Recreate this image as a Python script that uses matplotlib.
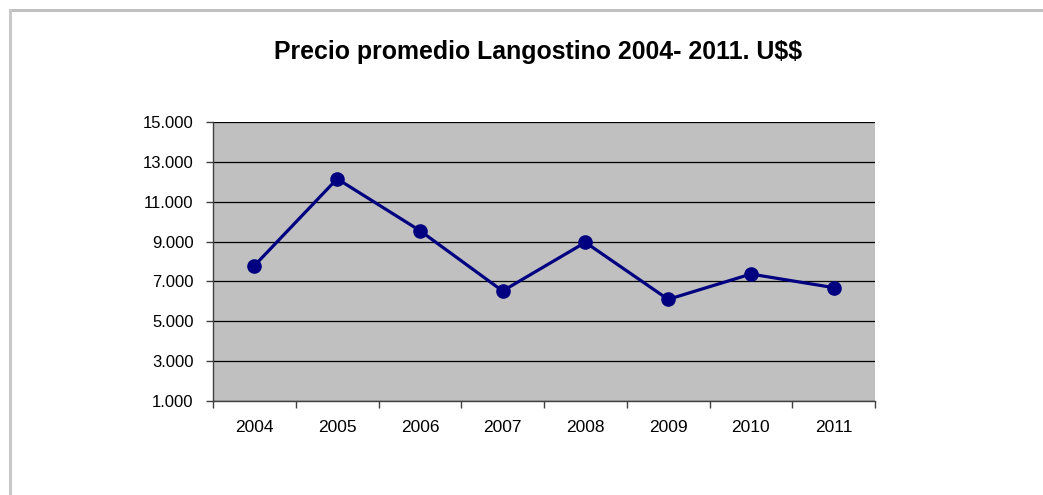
import matplotlib
matplotlib.use("Agg")
import matplotlib.pyplot as plt
from matplotlib.lines import Line2D
from matplotlib.ticker import FixedLocator, FuncFormatter

# datos
anios = ["2004", "2005", "2006", "2007", "2008", "2009", "2010", "2011"]
precios = [7790, 12150, 9550, 6520, 8960, 6100, 7370, 6690]
y_ticks = [1000, 3000, 5000, 7000, 9000, 11000, 13000, 15000]

TITULO = "Precio promedio Langostino 2004- 2011. U$$"
AZUL = "#000080"
GRIS = "#c0c0c0"

plt.rcParams["font.family"] = ["Liberation Sans", "DejaVu Sans"]

fig = plt.figure(figsize=(10.43, 4.95), dpi=100, facecolor="white")

# marco gris del grafico (solo arriba e izquierda visibles)
fig.add_artist(Line2D([9.5 / 1043, 1.0], [1 - 9.5 / 495, 1 - 9.5 / 495],
                      transform=fig.transFigure, color="#c0c0c0", lw=2.2))
fig.add_artist(Line2D([9.5 / 1043, 9.5 / 1043], [0.0, 1 - 9.5 / 495],
                      transform=fig.transFigure, color="#c8c8c8", lw=2.2))

ax = fig.add_axes([213 / 1043, 94 / 495, 662 / 1043, 279 / 495])
ax.set_facecolor(GRIS)

x = list(range(len(anios)))
ax.plot(x, precios, color=AZUL, lw=2.3, marker="o", markersize=9.5,
        markerfacecolor=AZUL, markeredgecolor=AZUL, zorder=3)

ax.set_xlim(-0.5, len(anios) - 0.5)
ax.set_ylim(1000, 15000)

ax.set_yticks(y_ticks)
ax.yaxis.set_major_formatter(FuncFormatter(lambda v, p: f"{int(v):,}".replace(",", ".")))
ax.yaxis.grid(True, color="black", lw=0.9)
ax.set_axisbelow(True)

# marcas del eje x entre categorias
ax.xaxis.set_major_locator(FixedLocator([i - 0.5 for i in range(len(anios) + 1)]))
ax.xaxis.set_major_formatter(FuncFormatter(lambda v, p: ""))
ax.set_xticks(x, minor=True)
ax.set_xticklabels(anios, minor=True)
ax.tick_params(axis="x", which="minor", length=0, pad=14, labelsize=12.5)
ax.tick_params(axis="x", which="major", length=5, width=1, color="#404040")
ax.tick_params(axis="y", length=5, width=1, color="#404040", pad=9, labelsize=12)

for s in ["top", "right"]:
    ax.spines[s].set_visible(False)
for s in ["left", "bottom"]:
    ax.spines[s].set_color("#404040")
    ax.spines[s].set_linewidth(1)

fig.text(538.5 / 1043, 1 - 59.5 / 495, TITULO, ha="center", va="baseline",
         fontsize=17.9, fontweight="bold", usetex=False, parse_math=False)

fig.savefig("out.png", dpi=100, facecolor="white")
